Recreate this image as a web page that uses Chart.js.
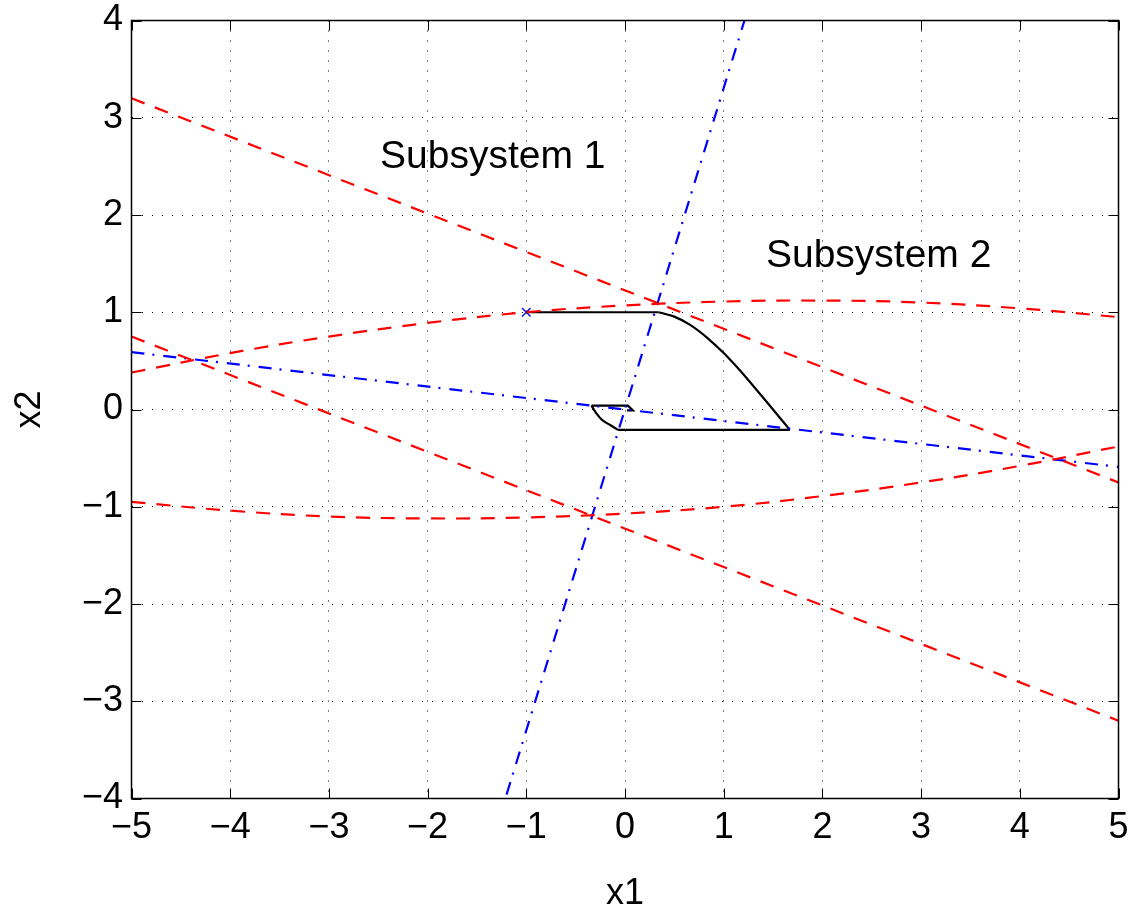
<!DOCTYPE html>
<html>
<head>
<meta charset="utf-8">
<title>Subsystem switching lines</title>
<script src="https://cdn.jsdelivr.net/npm/chart.js@4/dist/chart.umd.min.js"></script>
<style>
    html, body { margin: 0; padding: 0; background: #fff; }
    #wrap { width: 1134px; height: 913px; }
</style>
</head>
<body>
<div id="wrap"><canvas id="phaseChart" width="1134" height="913"></canvas></div>
<script>
// ---- data ----
const xTicks = [-5, -4, -3, -2, -1, 0, 1, 2, 3, 4, 5];
const yTicks = [-4, -3, -2, -1, 0, 1, 2, 3, 4];

// red dashed curves (level sets)
const curveX = [-5, -4, -3, -2, -1, 0, 1, 2, 3, 4, 5];
const upperCurveY = [0.38, 0.58, 0.75, 0.89, 1.0, 1.07, 1.11, 1.12, 1.10, 1.04, 0.95];
const lowerCurveY = [-0.95, -1.04, -1.10, -1.12, -1.11, -1.07, -1.0, -0.89, -0.75, -0.58, -0.38];

// red dashed straight lines
const boundX = [-5, 5];
const upperBoundY = [3.2, -0.75];
const lowerBoundY = [0.75, -3.2];

// blue dash-dot switching lines
const steepSwitchX = [-1.2, 1.21];
const steepSwitchY = [-3.96, 4];
const flatSwitchX = [-5, 5];
const flatSwitchY = [0.59, -0.59];

// black trajectory, split in straight legs and arcs
const topLegX = [-1, 0.34];
const topLegY = [1.0, 1.0];
const bigArcX = [0.34, 0.5, 0.66, 0.83, 1.0, 1.17, 1.33, 1.5, 1.67];
const bigArcY = [1.0, 0.955, 0.87, 0.74, 0.58, 0.395, 0.205, 0.0, -0.21];
const bottomLegX = [1.67, -0.07];
const bottomLegY = [-0.21, -0.21];
const smallArcX = [-0.07, -0.15, -0.23, -0.29, -0.34];
const smallArcY = [-0.21, -0.16, -0.11, -0.04, 0.04];
const innerLegX = [-0.34, 0.03, 0.08, 0.02];
const innerLegY = [0.04, 0.04, -0.01, -0.01];

// start point
const startX = [-1];
const startY = [1];

// text labels
const regionLabels = ['Subsystem 1', 'Subsystem 2'];
const regionLabelX = [-1.34, 2.57];
const regionLabelY = [2.595, 1.58];

const FONT = 'Liberation Sans, Arial, Helvetica, sans-serif';

function toPoints(xs, ys) {
    return xs.map((x, i) => ({ x: x, y: ys[i] }));
}

function fmtTick(value) {
    return value < 0 ? '\u2212' + Math.abs(value) : String(value);
}

function lineSet(xs, ys, color, dash, width, tension) {
    return {
        data: toPoints(xs, ys),
        showLine: true,
        borderColor: color,
        backgroundColor: color,
        borderWidth: width,
        borderDash: dash,
        pointRadius: 0,
        fill: false,
        tension: tension || 0
    };
}

// box + inward tick marks + text labels, matlab style
const matlabFrame = {
    id: 'matlabFrame',
    afterDatasetsDraw(chart) {
        const { ctx, chartArea: a, scales } = chart;
        ctx.save();

        // inward ticks on all four sides
        ctx.strokeStyle = '#000';
        ctx.lineWidth = 1;
        ctx.beginPath();
        xTicks.forEach(v => {
            const px = Math.round(scales.x.getPixelForValue(v)) + 0.5;
            ctx.moveTo(px, a.bottom); ctx.lineTo(px, a.bottom - 10);
            ctx.moveTo(px, a.top); ctx.lineTo(px, a.top + 10);
        });
        yTicks.forEach(v => {
            const py = Math.round(scales.y.getPixelForValue(v)) + 0.5;
            ctx.moveTo(a.left, py); ctx.lineTo(a.left + 10, py);
            ctx.moveTo(a.right, py); ctx.lineTo(a.right - 10, py);
        });
        ctx.stroke();

        // frame
        ctx.lineWidth = 1.5;
        ctx.strokeRect(a.left, a.top, a.right - a.left, a.bottom - a.top);

        // region labels
        ctx.fillStyle = '#000';
        ctx.font = '39px ' + FONT;
        ctx.textAlign = 'center';
        ctx.textBaseline = 'middle';
        regionLabels.forEach((txt, i) => {
            ctx.fillText(txt,
                scales.x.getPixelForValue(regionLabelX[i]),
                scales.y.getPixelForValue(regionLabelY[i]));
        });
        ctx.restore();
    }
};

const RED = '#ff0000';
const BLUE = '#0000ff';
const BLACK = '#000000';
const redDash = [14, 11];
const blueDashDot = [13, 8, 2, 9];

const datasets = [
    lineSet(boundX, upperBoundY, RED, redDash, 2.2),
    lineSet(boundX, lowerBoundY, RED, redDash, 2.2),
    lineSet(curveX, upperCurveY, RED, redDash, 2.2, 0.4),
    lineSet(curveX, lowerCurveY, RED, redDash, 2.2, 0.4),
    lineSet(steepSwitchX, steepSwitchY, BLUE, blueDashDot, 2.2),
    lineSet(flatSwitchX, flatSwitchY, BLUE, blueDashDot, 2.2),
    lineSet(topLegX, topLegY, BLACK, [], 2.2),
    lineSet(bigArcX, bigArcY, BLACK, [], 2.2, 0.3),
    lineSet(bottomLegX, bottomLegY, BLACK, [], 2.2),
    lineSet(smallArcX, smallArcY, BLACK, [], 2.2, 0.3),
    lineSet(innerLegX, innerLegY, BLACK, [], 2.2),
    {
        data: toPoints(startX, startY),
        showLine: false,
        pointStyle: 'crossRot',
        pointRadius: 6,
        borderColor: BLUE,
        borderWidth: 1.3
    }
];

const tickFont = { size: 36, family: FONT, lineHeight: 1 };

new Chart(document.getElementById('phaseChart'), {
    type: 'scatter',
    data: { datasets: datasets },
    options: {
        responsive: false,
        animation: false,
        layout: { padding: { top: 20.5, right: 15.5, left: 0, bottom: 0 } },
        plugins: {
            legend: { display: false },
            tooltip: { enabled: false }
        },
        scales: {
            x: {
                type: 'linear',
                min: -5,
                max: 5,
                afterBuildTicks: scale => { scale.ticks = xTicks.map(v => ({ value: v })); },
                afterFit: scale => { scale.height = 114.5; },
                ticks: {
                    font: tickFont,
                    color: '#000',
                    padding: 0,
                    autoSkip: false,
                    maxRotation: 0,
                    callback: fmtTick
                },
                // invisible tick marks just push the labels away from the box
                grid: { color: '#000', lineWidth: 1, drawTicks: true, tickLength: 12, tickColor: 'rgba(0,0,0,0)' },
                border: { display: false, dash: [1, 9] },
                title: {
                    display: true,
                    text: 'x1',
                    color: '#000',
                    font: { size: 36, family: FONT, lineHeight: 1 },
                    padding: { top: 0, bottom: 1 }
                }
            },
            y: {
                type: 'linear',
                min: -4,
                max: 4,
                afterBuildTicks: scale => { scale.ticks = yTicks.map(v => ({ value: v })); },
                afterFit: scale => { scale.width = 131.5; },
                ticks: {
                    font: tickFont,
                    color: '#000',
                    padding: 0,
                    autoSkip: false,
                    callback: fmtTick
                },
                grid: { color: '#000', lineWidth: 1, drawTicks: true, tickLength: 8.5, tickColor: 'rgba(0,0,0,0)' },
                border: { display: false, dash: [1, 9] },
                title: {
                    display: true,
                    text: 'x2',
                    color: '#000',
                    font: { size: 36, family: FONT, lineHeight: 1 },
                    padding: { top: 12, bottom: 0 }
                }
            }
        }
    },
    plugins: [matlabFrame]
});
</script>
</body>
</html>
